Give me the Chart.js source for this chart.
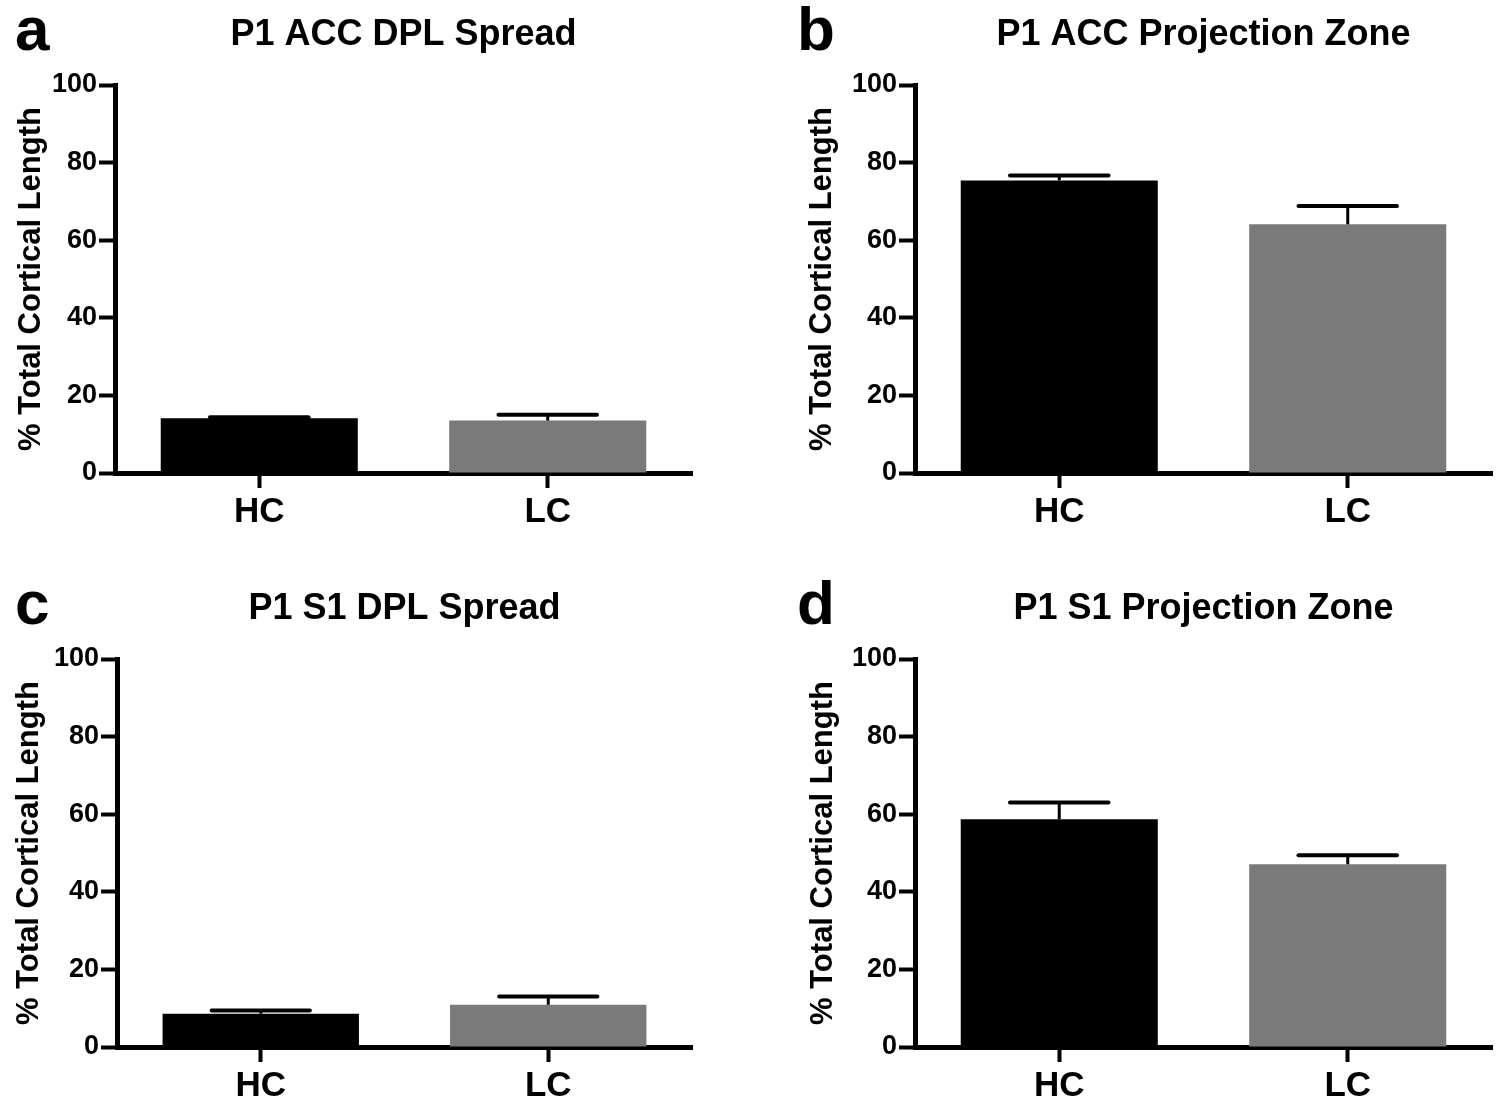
<!DOCTYPE html>
<html>
<head>
<meta charset="utf-8">
<script src="https://cdn.jsdelivr.net/npm/chart.js@4.4.1/dist/chart.umd.min.js"></script>
<style>
  html, body { margin: 0; padding: 0; background: #fff; }
  #fig { position: relative; width: 1498px; height: 1105px; overflow: hidden; }
  #fig canvas { position: absolute; }
</style>
</head>
<body>
<div id="fig"></div>
<script>
// ---- data ----
const groups = ['HC', 'LC'];
const panelLetters = ['a', 'b', 'c', 'd'];
const panelTitles = ['P1 ACC DPL Spread', 'P1 ACC Projection Zone', 'P1 S1 DPL Spread', 'P1 S1 Projection Zone'];
const yAxisTitle = '% Total Cortical Length';

const accSpreadMean = [14.1, 13.5];
const accSpreadErr  = [0.3, 1.5];
const accZoneMean   = [75.4, 64.1];
const accZoneErr    = [1.3, 4.7];
const s1SpreadMean  = [8.6, 10.9];
const s1SpreadErr   = [0.8, 2.1];
const s1ZoneMean    = [58.7, 47.1];
const s1ZoneErr     = [4.3, 2.3];

const panelMeans = [accSpreadMean, accZoneMean, s1SpreadMean, s1ZoneMean];
const panelErrs  = [accSpreadErr, accZoneErr, s1SpreadErr, s1ZoneErr];

// ---- look ----
const FONT = "'Liberation Sans', Arial, Helvetica, sans-serif";
const BAR_COLORS = ['#000000', '#7a7a7a'];
const CANVAS_H = 531;
const PLOT_TOP = 85;
const PLOT_BOTTOM = 473;

// where each panel sits on the page
const LAYOUT = [
  { left: 0,   top: 0,   width: 698, axisW: 115, letterX: 15, yTitleX: 31 },
  { left: 760, top: 0,   width: 738, axisW: 155, letterX: 37, yTitleX: 62 },
  { left: 0,   top: 574, width: 698, axisW: 117, letterX: 15, yTitleX: 29 },
  { left: 760, top: 574, width: 738, axisW: 155, letterX: 37, yTitleX: 63 },
];

Chart.defaults.font.family = FONT;
Chart.defaults.font.weight = 'bold';
Chart.defaults.color = '#000';

// upward-only SEM bars with a cap, like the original
const errorBars = {
  id: 'errorBars',
  afterDatasetsDraw(chart, args, opts) {
    const { ctx } = chart;
    const y = chart.scales.y;
    const meta = chart.getDatasetMeta(0);
    ctx.save();
    ctx.strokeStyle = '#000';
    meta.data.forEach((bar, i) => {
      const top = y.getPixelForValue(opts.means[i] + opts.errs[i]);
      const half = bar.width * 0.25;
      ctx.lineWidth = 3;
      ctx.beginPath();
      ctx.moveTo(bar.x, bar.y);
      ctx.lineTo(bar.x, top);
      ctx.stroke();
      ctx.lineWidth = 4;
      ctx.lineCap = 'round';
      ctx.beginPath();
      ctx.moveTo(bar.x - half, top);
      ctx.lineTo(bar.x + half, top);
      ctx.stroke();
      ctx.lineCap = 'butt';
    });
    ctx.restore();
  },
};

// panel letter + centred title
const panelText = {
  id: 'panelText',
  afterDraw(chart, args, opts) {
    const { ctx, chartArea } = chart;
    ctx.save();
    ctx.fillStyle = '#000';
    ctx.textBaseline = 'alphabetic';
    ctx.textAlign = 'left';
    ctx.font = `bold 62px ${FONT}`;
    ctx.fillText(opts.letter, opts.letterX, 50);
    ctx.textAlign = 'center';
    ctx.font = `bold 36px ${FONT}`;
    ctx.fillText(opts.title, (chartArea.left + chartArea.right) / 2, 45);
    ctx.restore();
  },
};

const fig = document.getElementById('fig');

LAYOUT.forEach((lay, p) => {
  const canvas = document.createElement('canvas');
  canvas.width = lay.width;
  canvas.height = CANVAS_H;
  canvas.style.left = lay.left + 'px';
  canvas.style.top = lay.top + 'px';
  canvas.style.width = lay.width + 'px';
  canvas.style.height = CANVAS_H + 'px';
  fig.appendChild(canvas);

  new Chart(canvas.getContext('2d'), {
    type: 'bar',
    data: {
      labels: groups,
      datasets: [{
        data: panelMeans[p],
        backgroundColor: BAR_COLORS,
        borderWidth: 0,
        categoryPercentage: 1,
        barPercentage: 0.683,
      }],
    },
    plugins: [errorBars, panelText],
    options: {
      responsive: false,
      animation: false,
      devicePixelRatio: 1,
      layout: { padding: { left: 0, top: PLOT_TOP, right: 6, bottom: 0 } },
      plugins: {
        legend: { display: false },
        tooltip: { enabled: false },
        errorBars: { means: panelMeans[p], errs: panelErrs[p] },
        panelText: { letter: panelLetters[p], title: panelTitles[p], letterX: lay.letterX },
      },
      scales: {
        x: {
          afterFit: (s) => { s.height = CANVAS_H - PLOT_BOTTOM; },
          grid: {
            display: true, drawOnChartArea: false, drawTicks: true, offset: false,
            tickLength: 15, tickWidth: 4, tickColor: '#000',
          },
          border: { display: true, color: '#000', width: 5 },
          ticks: { font: { size: 35, weight: 'bold' }, color: '#000', padding: 3 },
        },
        y: {
          min: 0, max: 100,
          afterFit: (s) => { s.width = lay.axisW; },
          grid: {
            display: true, drawOnChartArea: false, drawTicks: true,
            tickLength: 16, tickWidth: 4, tickColor: '#000',
          },
          border: { display: true, color: '#000', width: 5 },
          ticks: { stepSize: 20, font: { size: 27, weight: 'bold' }, color: '#000', padding: 2 },
          title: {
            display: true, text: yAxisTitle, color: '#000',
            font: { size: 31, weight: 'bold' },
            padding: { top: lay.yTitleX - 18.6, bottom: 0 },
          },
        },
      },
    },
  });
});
</script>
</body>
</html>
